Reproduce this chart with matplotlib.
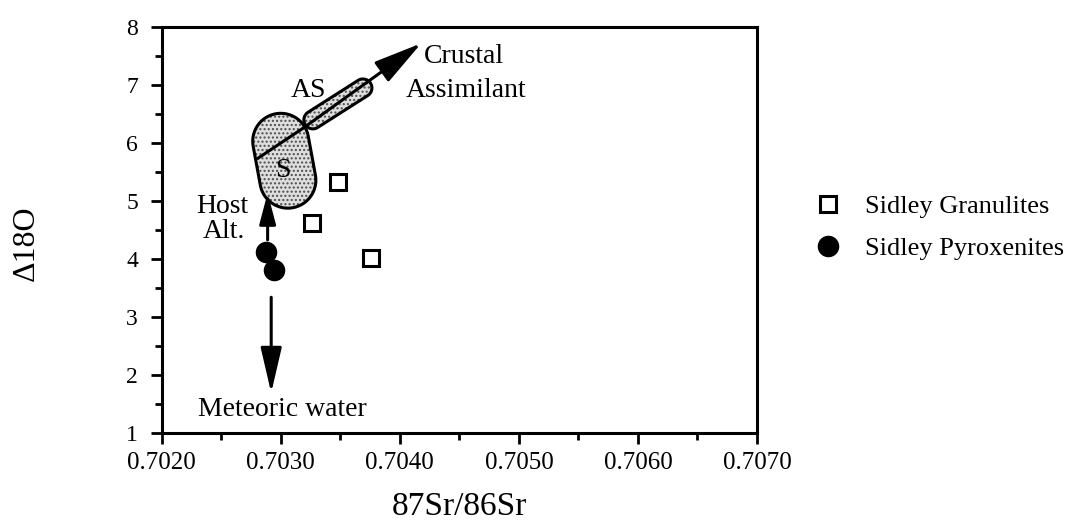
import numpy as np
import matplotlib
matplotlib.use("Agg")
import matplotlib.pyplot as plt
from matplotlib.patches import Polygon
from matplotlib.ticker import FormatStrFormatter, MultipleLocator

plt.rcParams["font.family"] = ["Liberation Serif", "DejaVu Serif"]

# data
granulite_x = [0.70326, 0.70348, 0.70376]
granulite_y = [4.62, 5.33, 4.02]
pyroxenite_x = [0.70288, 0.70294]
pyroxenite_y = [4.12, 3.81]

x_ticks = [0.7020, 0.7030, 0.7040, 0.7050, 0.7060, 0.7070]
y_ticks = [1, 2, 3, 4, 5, 6, 7, 8]

# annotation geometry (data coords)
s_field = [(0.70300, 6.03), (0.70306, 5.36)]      # capsule end centres
as_field = [(0.70327, 6.40), (0.70369, 6.95)]
mix_line = [(0.70281, 5.74), (0.70319, 6.26)]
crustal_arrow = [(0.70319, 6.26), (0.70418, 7.72)]
host_arrow = [(0.70289, 4.33), (0.70289, 5.14)]
meteoric_arrow = [(0.70292, 3.34), (0.70292, 1.69)]


def capsule(ax, p0, p1, r_px, n=40):
    """Rounded stadium between two data points, radius in pixels."""
    a = ax.transData.transform(p0)
    b = ax.transData.transform(p1)
    d = b - a
    ang = np.arctan2(d[1], d[0])
    t1 = np.linspace(ang - np.pi / 2, ang + np.pi / 2, n)
    t0 = np.linspace(ang + np.pi / 2, ang + 3 * np.pi / 2, n)
    pts = np.vstack([b + r_px * np.c_[np.cos(t1), np.sin(t1)],
                     a + r_px * np.c_[np.cos(t0), np.sin(t0)]])
    return ax.transData.inverted().transform(pts)


def draw_field(ax, p0, p1, r_px):
    pts = capsule(ax, p0, p1, r_px)
    ax.add_patch(Polygon(pts, closed=True, facecolor="#dedede",
                         edgecolor="0.3", hatch="....", lw=0, zorder=2))
    ax.add_patch(Polygon(pts, closed=True, fill=False,
                         edgecolor="black", lw=2.2, zorder=3))


fig = plt.figure(figsize=(10.67, 5.21), dpi=100)
ax = fig.add_axes([0.1515, 0.169, 0.558, 0.779])
ax.set_xlim(0.7020, 0.7070)
ax.set_ylim(1, 8)

draw_field(ax, *s_field, 28)
draw_field(ax, *as_field, 9)
ax.plot(*zip(*mix_line), color="black", lw=2.2, zorder=4)

ax.annotate("", xy=crustal_arrow[1], xytext=crustal_arrow[0],
            arrowprops=dict(arrowstyle="-|>,head_length=3.0,head_width=0.75",
                            mutation_scale=10, lw=2.2, color="black",
                            shrinkA=0, shrinkB=0), zorder=5)
ax.annotate("", xy=host_arrow[1], xytext=host_arrow[0],
            arrowprops=dict(arrowstyle="-|>,head_length=1.9,head_width=0.5",
                            mutation_scale=10, lw=2.2, color="black",
                            shrinkA=0, shrinkB=0), zorder=5)
ax.annotate("", xy=meteoric_arrow[1], xytext=meteoric_arrow[0],
            arrowprops=dict(arrowstyle="-|>,head_length=2.8,head_width=0.65",
                            mutation_scale=10, lw=2.2, color="black",
                            shrinkA=0, shrinkB=0), zorder=5)

ax.plot(granulite_x, granulite_y, ls="none", marker="s", ms=12,
        mfc="white", mec="black", mew=2.2, zorder=6, label="Sidley Granulites")
ax.plot(pyroxenite_x, pyroxenite_y, ls="none", marker="o", ms=14.5,
        mfc="black", mec="black", zorder=6, label="Sidley Pyroxenites")

txt = dict(fontsize=20, color="black", zorder=7)
ax.text(0.70420, 7.50, "Crustal", ha="left", va="center", **txt)
ax.text(0.70405, 6.91, "Assimilant", ha="left", va="center", **txt)
ax.text(0.70323, 6.91, "AS", ha="center", va="center", **txt)
ax.text(0.70302, 5.53, "S", ha="center", va="center", **txt)
ax.text(0.70251, 4.90, "Host", ha="center", va="center", **txt)
ax.text(0.70252, 4.47, "Alt.", ha="center", va="center", **txt)
ax.text(0.70301, 1.40, "Meteoric water", ha="center", va="center", **txt)

ax.set_xticks(x_ticks)
ax.set_yticks(y_ticks)
ax.xaxis.set_major_formatter(FormatStrFormatter("%.4f"))
ax.xaxis.set_minor_locator(MultipleLocator(0.0005))
ax.yaxis.set_minor_locator(MultipleLocator(0.5))
ax.tick_params(which="major", direction="out", length=8, width=2.0)
ax.tick_params(which="minor", direction="out", length=5, width=2.0)
ax.tick_params(axis="x", labelsize=18, pad=6)
ax.tick_params(axis="y", labelsize=17, pad=9)
for sp in ax.spines.values():
    sp.set_linewidth(2.2)

ax.set_xlabel("87Sr/86Sr", fontsize=24, labelpad=12)
ax.set_ylabel("\u039418O", fontsize=23)
ax.yaxis.set_label_coords(-0.203, 0.468)

fig.legend(loc="upper left", bbox_to_anchor=(0.741, 0.672), frameon=False,
           fontsize=19, handlelength=1.0, handletextpad=0.9, labelspacing=0.7,
           markerscale=1.0)

fig.savefig("out.png", dpi=100)
